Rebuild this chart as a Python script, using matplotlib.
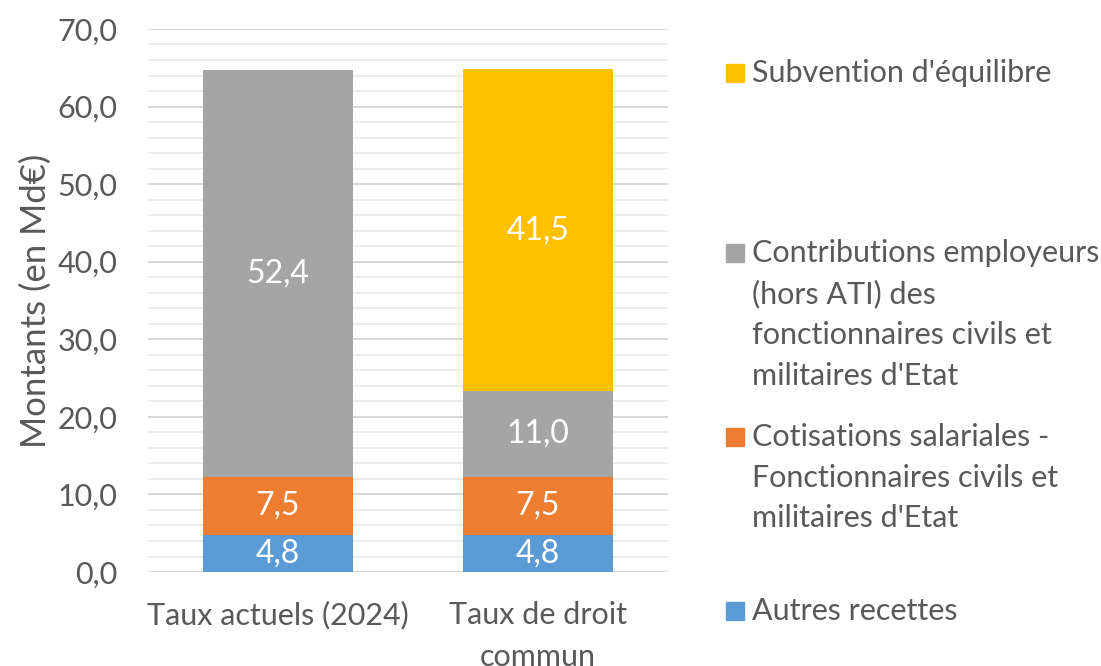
import numpy as np
import matplotlib.pyplot as plt
from matplotlib.patches import Rectangle

plt.rcParams['font.family'] = ['Lato', 'DejaVu Sans']

categories = ['Taux actuels (2024)', 'Taux de droit\ncommun']
series_names = ['Autres recettes',
                'Cotisations salariales -\nFonctionnaires civils et\nmilitaires d\'Etat',
                'Contributions employeurs\n(hors ATI) des\nfonctionnaires civils et\nmilitaires d\'Etat',
                'Subvention d\'équilibre']
autres = [4.8, 4.8]
cotisations = [7.5, 7.5]
contributions = [52.4, 11.0]
subvention = [0.0, 41.5]
colors = ['#5B9BD5', '#ED7D31', '#A5A5A5', '#FFC000']

txt = '#595959'
fig = plt.figure(figsize=(11.01, 6.66), dpi=100)
ax = fig.add_axes([0.1344, 0.1411, 0.4723, 0.8154])

x = np.arange(len(categories))
bottom = np.zeros(len(categories))
for vals, col in zip([autres, cotisations, contributions, subvention], colors):
    vals = np.array(vals)
    ax.bar(x, vals, 0.574, bottom=bottom, color=col, zorder=3)
    for xi, v, b in zip(x, vals, bottom):
        if v > 0:
            ax.text(xi, b + v / 2, f'{v:.1f}'.replace('.', ','), ha='center', va='center',
                    color='white', fontsize=23, zorder=4)
    bottom += vals

ax.set_xlim(-0.5, 1.5)
ax.set_ylim(0, 70)
ax.set_yticks(np.arange(0, 71, 10))
ax.set_yticklabels([f'{v:.1f}'.replace('.', ',') for v in np.arange(0, 71, 10)])
ax.set_yticks(np.arange(0, 71, 2), minor=True)
ax.grid(axis='y', which='major', color='#D4D4D4', linewidth=1.3, zorder=0)
ax.grid(axis='y', which='minor', color='#EBEBEB', linewidth=1.3, zorder=0)
ax.set_xticks(x)
ax.set_xticklabels(categories, linespacing=1.6)
ax.tick_params(axis='both', which='both', length=0, labelsize=22, labelcolor=txt)
ax.tick_params(axis='y', pad=22)
ax.tick_params(axis='x', pad=21)
for s in ax.spines.values():
    s.set_visible(False)
ax.set_ylabel('Montants (en Md€)', fontsize=25, color=txt, labelpad=4)

# legend drawn by hand (Excel-like spacing)
leg_y = [611, 437, 253, 73]  # pixel y of first text line
W, H = 1101, 666
for name, col, yp in zip(series_names, colors, leg_y):
    fig.patches.append(Rectangle((726 / W, 1 - (yp + 9) / H), 18 / W, 18 / H,
                                 transform=fig.transFigure, color=col))
    fig.text(752 / W, 1 - (yp - 14) / H, name, ha='left', va='top', fontsize=22,
             color=txt, linespacing=1.55)

fig.savefig('out.png', dpi=100)
